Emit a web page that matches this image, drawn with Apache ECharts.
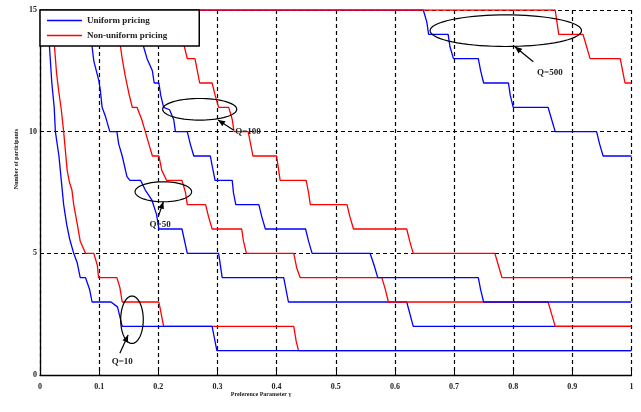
<!DOCTYPE html>
<html><head><meta charset="utf-8">
<script src="https://cdn.jsdelivr.net/npm/echarts@6/dist/echarts.min.js"></script>
<style>html,body{margin:0;padding:0;background:#fff}#c{width:641px;height:412px}</style>
</head><body><div id="c"></div>
<script>
// ---- data ----
const seriesNames = ['Uniform pricing', 'Non-uniform pricing'];
const xAxisTitle = 'Preference Parameter \u03b3';
const yAxisTitle = 'Number of participants';

const uniformQ10 = [[0.010,15],[0.016,13.5],[0.020,12],[0.024,11],[0.026,10],[0.032,9],[0.036,8],[0.040,7],[0.045,6.2],[0.050,5.6],[0.057,5],[0.063,4.6],[0.068,4],[0.077,4],[0.084,3.5],[0.088,3],[0.120,3],[0.131,2.8],[0.135,2.4],[0.139,2],[0.291,2],[0.295,1.5],[0.299,1],[1,1]];
const nonUniformQ10 = [[0.019,15],[0.0245,13.5],[0.028,12.4],[0.032,11.6],[0.036,10.9],[0.040,10],[0.043,9.2],[0.046,8.4],[0.050,7.9],[0.054,7.6],[0.057,7],[0.063,6.2],[0.068,5.5],[0.077,5],[0.091,5],[0.097,4.5],[0.099,4],[0.130,4],[0.135,3.6],[0.139,3],[0.201,3],[0.205,2.5],[0.209,2],[0.429,2],[0.433,1.4],[0.437,1],[1,1]];
const uniformQ50 = [[0.080,15],[0.088,13.5],[0.091,12.9],[0.0995,12.1],[0.102,11.7],[0.105,11],[0.111,10.6],[0.118,10],[0.130,10],[0.133,9.5],[0.139,9],[0.147,8.15],[0.152,8],[0.170,8],[0.178,7.6],[0.189,7.2],[0.197,6.6],[0.201,6],[0.240,6],[0.249,5],[0.302,5],[0.308,4],[0.412,4],[0.420,3],[0.620,3],[0.631,2],[1,2]];
const nonUniformQ50 = [[0.128,15],[0.136,13.5],[0.139,13],[0.144,12.3],[0.150,11.6],[0.156,11],[0.164,11],[0.172,10.5],[0.178,10],[0.184,9.5],[0.190,9],[0.201,9],[0.206,8.4],[0.214,8],[0.240,8],[0.246,7.5],[0.249,7],[0.280,7],[0.285,6.5],[0.291,6],[0.341,6],[0.344,5.5],[0.349,5],[0.429,5],[0.434,4.4],[0.440,4],[0.578,4],[0.584,3.5],[0.589,3],[0.859,3],[0.865,2.5],[0.871,2],[1,2]];
const uniformQ100 = [[0.165,15],[0.175,13.5],[0.181,13],[0.190,12.5],[0.193,12],[0.201,12],[0.204,11.5],[0.209,11],[0.219,10.9],[0.226,10.5],[0.229,10],[0.249,10],[0.254,9.5],[0.260,9],[0.288,9],[0.291,8.6],[0.296,8],[0.325,8],[0.327,7.5],[0.331,7],[0.370,7],[0.375,6.5],[0.381,6],[0.449,6],[0.454,5.5],[0.460,5],[0.558,5],[0.565,4.5],[0.571,4],[0.741,4],[0.745,3.5],[0.750,3],[1,3]];
const nonUniformQ100 = [[0.236,15],[0.244,13.5],[0.249,13],[0.262,13],[0.266,12.5],[0.270,12],[0.291,12],[0.296,11.5],[0.302,11],[0.319,11],[0.325,10.5],[0.328,10],[0.352,10],[0.356,9.5],[0.360,9],[0.400,9],[0.403,8.5],[0.406,8],[0.450,8],[0.454,7.5],[0.457,7],[0.519,7],[0.524,6.5],[0.530,6],[0.620,6],[0.625,5.5],[0.631,5],[0.769,5],[0.775,4.5],[0.781,4],[1,4]];
const uniformQ500 = [[0,15],[0.648,15],[0.654,14.5],[0.657,14],[0.690,14],[0.693,13.5],[0.699,13],[0.741,13],[0.745,12.5],[0.750,12],[0.792,12],[0.795,11.5],[0.800,11],[0.859,11],[0.865,10.5],[0.871,10],[0.941,10],[0.946,9.5],[0.952,9],[1,9]];
const nonUniformQ500 = [[0,15],[0.871,15],[0.874,14.5],[0.877,14],[0.918,14],[0.924,13.5],[0.930,13],[0.981,13],[0.985,12.5],[0.989,12],[1,12]];

// annotations: ellipse centre/radius, arrow tail->head, label anchor (data units)
const annLabels = ['Q=10', 'Q=50', 'Q=100', 'Q=500'];
const annEllipseCenter = [[0.1555,2.27],[0.2085,7.53],[0.270,10.92],[0.7875,14.15]];
const annEllipseRadius = [[0.0191,0.974],[0.0478,0.411],[0.0626,0.444],[0.128,0.65]];
const annArrowFrom = [[0.135,0.89],[0.200,6.51],[0.327,10.07],[0.834,12.87]];
const annArrowTo = [[0.149,1.64],[0.2085,7.12],[0.301,10.48],[0.803,13.49]];
const annLabelAt = [[0.139,0.53],[0.203,6.16],[0.330,10.0],[0.862,12.42]];
const annLabelAlign = ['center','center','left','center'];

const BLUE = '#0000ff', RED = '#ff0000';
const FONT = '"Liberation Serif", "DejaVu Serif", serif';

const chart = echarts.init(document.getElementById('c'));

function mk(name, data, color) {
  return {
    type: 'line', name: name, data: data, symbol: 'none', showSymbol: false,
    lineStyle: { color: color, width: 1.3 }, itemStyle: { color: color },
    animation: false, z: 2
  };
}

const axisCommon = {
  type: 'value',
  axisLine: { show: true, onZero: false, lineStyle: { color: '#000', width: 1.3 } },
  axisTick: { show: true, inside: true, length: 4, lineStyle: { color: '#000', width: 1 } },
  splitLine: { show: true, lineStyle: { color: '#000', type: [4, 3], width: 1.2 } },
  axisLabel: { fontFamily: FONT, fontSize: 8, fontWeight: 'bold', color: '#222' }
};

chart.setOption({
  animation: false,
  backgroundColor: '#fff',
  grid: { left: 40, right: 9.5, top: 10, bottom: 37 },
  xAxis: Object.assign({}, axisCommon, { min: 0, max: 1, interval: 0.1,
    axisLabel: Object.assign({}, axisCommon.axisLabel, { margin: 8 }) }),
  yAxis: Object.assign({}, axisCommon, { min: 0, max: 15, interval: 5,
    axisLabel: Object.assign({}, axisCommon.axisLabel, { margin: 3 }) }),
  legend: {
    data: seriesNames, orient: 'vertical', left: 40, top: 10,
    padding: [6, 32, 6, 7], itemGap: 6, itemWidth: 35, itemHeight: 1.6,
    icon: 'rect',
    borderColor: '#000', borderWidth: 1.5, backgroundColor: '#fff', borderRadius: 0,
    textStyle: { fontFamily: FONT, fontSize: 9, lineHeight: 9, fontWeight: 'bold', color: '#222' },
    selectedMode: false
  },
  series: [
    mk(seriesNames[1], nonUniformQ10, RED),
    mk(seriesNames[0], uniformQ10, BLUE),
    mk(seriesNames[0], uniformQ50, BLUE),
    mk(seriesNames[1], nonUniformQ50, RED),
    mk(seriesNames[0], uniformQ100, BLUE),
    mk(seriesNames[1], nonUniformQ100, RED),
    mk(seriesNames[0], uniformQ500, BLUE),
    mk(seriesNames[1], nonUniformQ500, RED)
  ]
});

const els = [];
const px = p => chart.convertToPixel({ gridIndex: 0 }, p);
for (let i = 0; i < annLabels.length; i++) {
  const c = px(annEllipseCenter[i]);
  const e = px([annEllipseCenter[i][0] + annEllipseRadius[i][0], annEllipseCenter[i][1] + annEllipseRadius[i][1]]);
  const rx = Math.abs(e[0] - c[0]), ry = Math.abs(e[1] - c[1]);
  const pts = [];
  for (let k = 0; k < 72; k++) {
    const a = k / 72 * Math.PI * 2;
    pts.push([c[0] + rx * Math.cos(a), c[1] + ry * Math.sin(a)]);
  }
  els.push({ type: 'polygon', shape: { points: pts }, style: { fill: 'none', stroke: '#000', lineWidth: 1.2 }, z: 10 });
  const t = px(annArrowFrom[i]), h = px(annArrowTo[i]);
  els.push({ type: 'line', shape: { x1: t[0], y1: t[1], x2: h[0], y2: h[1] }, style: { stroke: '#000', lineWidth: 1.2 }, z: 10 });
  const ang = Math.atan2(h[1] - t[1], h[0] - t[0]);
  const L = 7, W = 3;
  const bx = h[0] - L * Math.cos(ang), by = h[1] - L * Math.sin(ang);
  els.push({ type: 'polygon', shape: { points: [[h[0], h[1]], [bx - W * Math.sin(ang), by + W * Math.cos(ang)], [bx + W * Math.sin(ang), by - W * Math.cos(ang)]] }, style: { fill: '#000' }, z: 10 });
  const lp = px(annLabelAt[i]);
  els.push({ type: 'text', x: lp[0], y: lp[1], z: 11, style: { text: annLabels[i], font: 'bold 9px ' + FONT, fill: '#222', align: annLabelAlign[i], verticalAlign: 'middle' } });
}
els.push({ type: 'text', x: 261, y: 394, z: 11, style: { text: xAxisTitle, font: 'bold 6px ' + FONT, fill: '#222', align: 'center', verticalAlign: 'middle' } });
els.push({ type: 'text', x: 16, y: 159, rotation: Math.PI / 2, z: 11, style: { text: yAxisTitle, font: 'bold 6px ' + FONT, fill: '#222', align: 'center', verticalAlign: 'middle' } });
chart.setOption({ graphic: els });
</script>
</body></html>
